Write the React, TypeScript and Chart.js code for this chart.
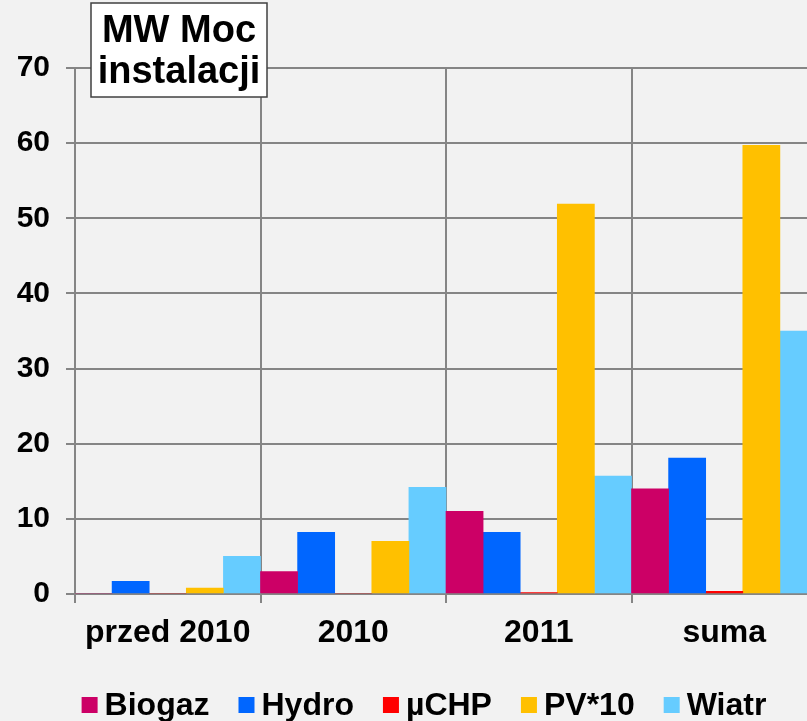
import { useEffect, useRef } from 'react';
import { Chart, registerables } from 'chart.js';

Chart.register(...registerables);

const categories = ['przed 2010', '2010', '2011', 'suma'];
const seriesNames = ['Biogaz', 'Hydro', 'µCHP', 'PV*10', 'Wiatr'];
const biogaz = [0, 3.0, 11.0, 14.0];
const hydro = [1.7, 8.2, 8.2, 18.1];
const muchp = [0, 0, 0.2, 0.35];
const pv10 = [0.8, 7.0, 51.9, 59.7];
const wiatr = [5.0, 14.2, 15.7, 35.0];
const seriesColors = ['#CC0066', '#0066FF', '#FF0000', '#FFC000', '#66CCFF'];
const yMin = 0;
const yMax = 70;
const yStep = 10;
const titleLines = ['MW Moc', 'instalacji'];

const FAMILY = '"Liberation Sans", Arial, sans-serif';
const GRID = '#858585';
const BG = '#F2F2F2';

const bgPlugin = {
  id: 'bgFill',
  beforeDraw(chart: any) {
    const ctx = chart.ctx;
    ctx.save();
    ctx.fillStyle = BG;
    ctx.fillRect(0, 0, chart.width, chart.height);
    ctx.restore();
  },
};

const overlayPlugin = {
  id: 'overlay',
  afterDraw(chart: any) {
    const ctx = chart.ctx;
    ctx.save();
    // title box
    const bx = 91, by = 3, bw = 176, bh = 94;
    ctx.fillStyle = '#FFFFFF';
    ctx.fillRect(bx, by, bw, bh);
    ctx.strokeStyle = '#404040';
    ctx.lineWidth = 1.5;
    ctx.strokeRect(bx, by, bw, bh);
    ctx.fillStyle = '#000000';
    ctx.font = `bold 38px ${FAMILY}`;
    ctx.textAlign = 'center';
    ctx.textBaseline = 'alphabetic';
    ctx.fillText(titleLines[0], bx + bw / 2, 42);
    ctx.fillText(titleLines[1], bx + bw / 2, 83);

    // legend
    const fontSize = 32;
    ctx.font = `bold ${fontSize}px ${FAMILY}`;
    const box = 16;
    const boxGap = 7;
    const itemGap = 29;
    const ds = chart.data.datasets;
    const widths = ds.map((d: any) => box + boxGap + ctx.measureText(d.label).width);
    const total = widths.reduce((a: number, b: number) => a + b, 0) + itemGap * (ds.length - 1);
    let x = 424 - total / 2;
    const cy = 705;
    ctx.textAlign = 'left';
    ctx.textBaseline = 'middle';
    ds.forEach((d: any, i: number) => {
      ctx.fillStyle = d.backgroundColor;
      ctx.fillRect(x, cy - box / 2, box, box);
      ctx.fillStyle = '#000000';
      ctx.fillText(d.label, x + box + boxGap, cy + 1);
      x += widths[i] + itemGap;
    });
    ctx.restore();
  },
};

export default function App() {
  const ref = useRef<HTMLCanvasElement | null>(null);

  useEffect(() => {
    if (!ref.current) return;
    const values = [biogaz, hydro, muchp, pv10, wiatr];
    const chart = new Chart(ref.current, {
      type: 'bar',
      data: {
        labels: categories,
        datasets: seriesNames.map((name, i) => ({
          label: name,
          data: values[i],
          backgroundColor: seriesColors[i],
          borderWidth: 0,
          barPercentage: 1,
          categoryPercentage: 1,
        })),
      },
      options: {
        responsive: false,
        animation: false,
        layout: { padding: { left: 0, top: 68, right: 63, bottom: 67 } },
        plugins: {
          legend: { display: false },
          tooltip: { enabled: false },
          title: { display: false },
        },
        scales: {
          x: {
            grid: { color: GRID, lineWidth: 2, offset: true, tickLength: 9, drawTicks: true },
            border: { color: GRID, width: 2 },
            ticks: {
              color: '#000000',
              font: { family: FAMILY, size: 32, weight: 'bold' },
              padding: 11,
              maxRotation: 0,
              autoSkip: false,
            },
            afterFit: (s: any) => {
              s.height = 60;
            },
          },
          y: {
            min: yMin,
            max: yMax,
            grid: { color: GRID, lineWidth: 2, tickLength: 9 },
            border: { color: GRID, width: 2 },
            ticks: {
              stepSize: yStep,
              color: '#000000',
              font: { family: FAMILY, size: 30, weight: 'bold' },
              padding: 16,
            },
            afterFit: (s: any) => {
              s.width = 75;
            },
          },
        },
      },
      plugins: [bgPlugin, overlayPlugin],
    } as any);
    return () => chart.destroy();
  }, []);

  return (
    <div
      style={{
        position: 'absolute',
        left: 0,
        top: 0,
        width: 807,
        height: 721,
        overflow: 'hidden',
        background: BG,
      }}
    >
      <canvas ref={ref} width={880} height={721} style={{ display: 'block' }} />
    </div>
  );
}
